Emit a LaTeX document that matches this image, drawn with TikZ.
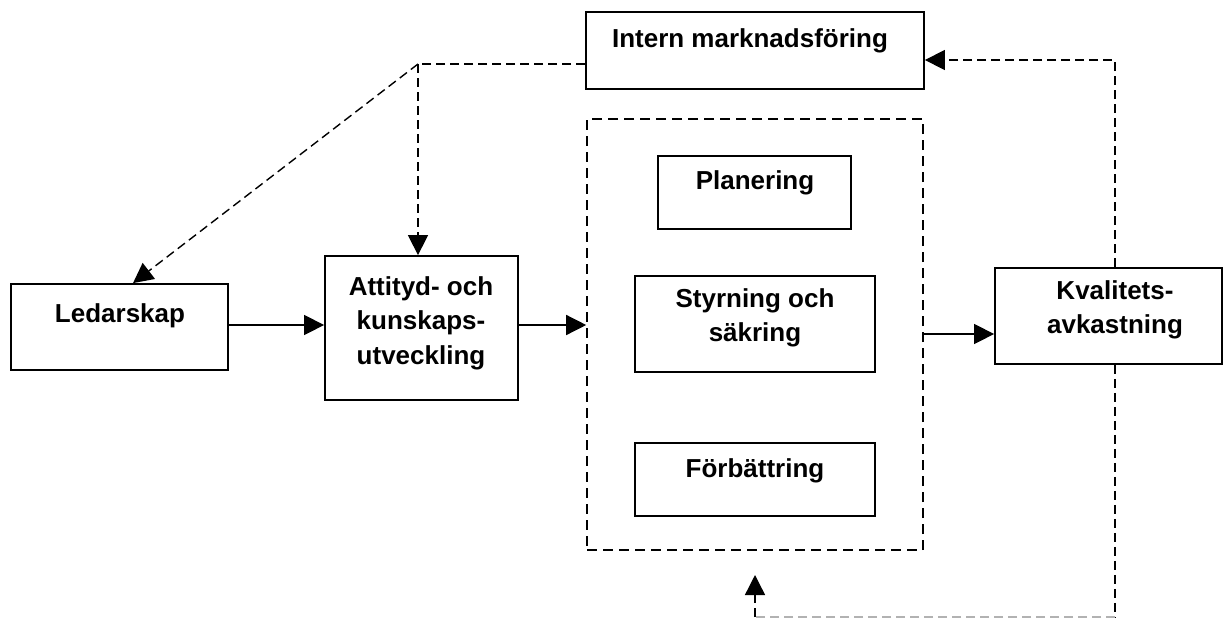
\documentclass[tikz,border=0pt]{standalone}
\usepackage{fontspec}
\setmainfont{Liberation Sans}
\usetikzlibrary{arrows.meta}
\begin{document}
\begin{tikzpicture}[x=1pt,y=-1pt,
  box/.style={draw,line width=1.8pt,rectangle,inner sep=0pt},
  dbox/.style={draw,line width=1.6pt,rectangle,inner sep=0pt,dash pattern=on 10pt off 6pt},
  txt/.style={font=\fontsize{26}{34.5}\selectfont\bfseries,align=center,inner sep=0pt},
  arr/.style={line width=1.4pt,-{Triangle[length=20pt,width=20pt]}},
  darr/.style={line width=1.4pt,dash pattern=on 9pt off 5pt,-{Triangle[length=20pt,width=20pt]}},
  dline/.style={line width=1.4pt,dash pattern=on 9pt off 5pt}
]
\useasboundingbox (0,0) rectangle (1226,622);
% boxes
\node[box,minimum width=217pt,minimum height=86pt] (ledar) at (119.5,327) {};
\node[box,minimum width=193pt,minimum height=144pt] (att) at (421.5,328) {};
\node[box,minimum width=338pt,minimum height=77pt] (intern) at (755,50.5) {};
\node[dbox,minimum width=336pt,minimum height=431pt] (grp) at (755,334.5) {};
\node[box,minimum width=193pt,minimum height=73pt] (plan) at (754.5,192.5) {};
\node[box,minimum width=240pt,minimum height=96pt] (styr) at (755,324) {};
\node[box,minimum width=240pt,minimum height=73pt] (forb) at (755,479.5) {};
\node[box,minimum width=227pt,minimum height=96pt] (kval) at (1108.5,316) {};
% texts
\node[txt] (tledar) at (120,316) {Ledarskap};
\node[txt] (tatt) at (421,323) {Attityd- och\\kunskaps-\\utveckling};
\node[txt] (tintern) at (750,41) {Intern marknadsföring};
\node[txt] (tplan) at (755,183) {Planering};
\node[txt] (tstyr) at (755,318) {Styrning och\\säkring};
\node[txt] (tforb) at (755,471) {Förbättring};
\node[txt] (tkval) at (1115,310) {Kvalitets-\\avkastning};
% solid connectors
\draw[arr] (ledar.east |- 0,325) -- (att.west |- 0,325);
\draw[arr] (att.east |- 0,325) -- (grp.west |- 0,325);
\draw[arr] (grp.east |- 0,334) -- (kval.west |- 0,334);
% dashed connectors from Intern marknadsföring
\coordinate (j) at (418,64);
\draw[dline] (intern.west |- j) -- (j);
\draw[darr] (j) -- (j |- att.north);
\draw[darr] (j) -- ([xshift=13.5pt]ledar.north);
% feedback Kvalitetsavkastning -> Intern marknadsföring
\coordinate (k1) at (1115,60);
\draw[darr] (kval.north -| k1) -- (k1) -- (intern.east |- k1);
% feedback Kvalitetsavkastning -> group (bottom)
\coordinate (b1) at (1115,617);
\coordinate (b2) at (755,617);
\coordinate (b3) at (755,575);
\draw[dline] (kval.south -| b1) -- (b1);
\draw[dline,gray!60] (b1) -- (b2);
\draw[darr] (b2) -- (b3);
\end{tikzpicture}
\end{document}
